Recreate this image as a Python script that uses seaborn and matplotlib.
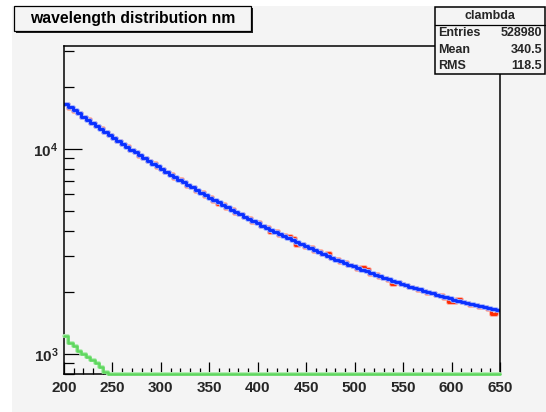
import numpy as np
import pandas as pd
import matplotlib
matplotlib.use("Agg")
import matplotlib.pyplot as plt
import matplotlib.patheffects as pe
from matplotlib.patches import Rectangle
from matplotlib.lines import Line2D
from matplotlib.ticker import FixedLocator, FuncFormatter, MultipleLocator, LogLocator, NullFormatter
import seaborn as sns

# ---- histogram definition -------------------------------------------------
bin_lo, bin_hi, n_bins = 200.0, 650.0, 100

# measured spectrum (counts per bin)
measured = [
    16640, 15900, 15380, 14950, 14310, 13950, 13390, 12880, 12590, 12060,
    11760, 11270, 10990, 10540, 10310, 9870, 9650, 9290, 9080, 8700,
    8530, 8190, 8010, 7690, 7550, 7240, 7110, 6900, 6620, 6520,
    6270, 6170, 5930, 5830, 5600, 5390, 5380, 5170, 5100, 4890,
    4830, 4640, 4600, 4410, 4390, 4190, 4150, 3950, 3970, 3820,
    3790, 3780, 3700, 3410, 3460, 3330, 3310, 3180, 3170, 3060,
    3105, 2930, 2900, 2810, 2800, 2710, 2690, 2600, 2650, 2600,
    2470, 2450, 2380, 2360, 2300, 2190, 2250, 2190, 2180, 2120,
    2110, 2050, 2040, 1990, 1990, 1930, 1930, 1880, 1790, 1790,
    1850, 1790, 1780, 1740, 1740, 1700, 1700, 1660, 1570, 1630,
]

# expected (smooth) spectrum
expected = [
    16600, 16020, 15450, 14910, 14400, 13900, 13430, 12970, 12540, 12120,
    11710, 11330, 10960, 10610, 10270, 9940, 9620, 9320, 9030, 8750,
    8480, 8230, 7980, 7740, 7510, 7290, 7080, 6870, 6680, 6490,
    6300, 6130, 5960, 5790, 5640, 5490, 5340, 5200, 5060, 4930,
    4800, 4680, 4560, 4450, 4340, 4230, 4130, 4030, 3940, 3850,
    3760, 3670, 3590, 3510, 3430, 3360, 3280, 3210, 3150, 3080,
    3015, 2950, 2890, 2840, 2780, 2730, 2675, 2625, 2576, 2530,
    2483, 2440, 2396, 2354, 2314, 2275, 2237, 2200, 2165, 2131,
    2098, 2066, 2034, 2004, 1975, 1947, 1919, 1893, 1867, 1842,
    1818, 1795, 1773, 1751, 1730, 1710, 1690, 1671, 1653, 1635,
]

# short-wavelength component (empty above ~250 nm)
short_comp = [1224, 1128, 1098, 1038, 997, 970, 935, 901, 867, 820, 790] + [0] * 89

x_ticks = [200, 250, 300, 350, 400, 450, 500, 550, 600, 650]
y_ticks = [1e3, 1e4]
y_range = (799.0, 31800.0)

title_text = "wavelength distribution nm"
stats_name = "clambda"
stats_rows = [("Entries", "528980"), ("Mean", "340.5"), ("RMS", "118.5")]

# ---- style ----------------------------------------------------------------
sns.set_theme(style="white")
plt.rcParams["font.family"] = ["Liberation Sans", "DejaVu Sans"]
plt.rcParams["font.weight"] = "bold"
plt.rcParams["mathtext.fontset"] = "custom"
plt.rcParams["mathtext.rm"] = "Liberation Sans:bold"
plt.rcParams["mathtext.bf"] = "Liberation Sans:bold"
plt.rcParams["mathtext.it"] = "Liberation Sans:bold"

BG = "#f4f4f4"
W, H = 546, 412

fig = plt.figure(figsize=(W / 100, H / 100), dpi=100, facecolor="white")


def fx(px):
    return px / W


def fy(py):
    return 1 - py / H


# canvas
fig.patches.append(Rectangle((fx(12), 0), 1 - fx(12), fy(6), transform=fig.transFigure,
                             facecolor=BG, edgecolor="none", zorder=-10))

ax = fig.add_axes([fx(64), fy(374), fx(500) - fx(64), fy(46) - fy(374)])
ax.set_facecolor(BG)

edges = np.linspace(bin_lo, bin_hi, n_bins + 1)
centers = 0.5 * (edges[:-1] + edges[1:])
bin_list = [float(e) for e in edges]

# empty bins sit on the lower edge of the log axis
short_shown = np.clip(np.array(short_comp, dtype=float), y_range[0], None)
df = pd.DataFrame({
    "wavelength": centers,
    "measured": measured,
    "expected": expected,
    "short": short_shown,
})

sns.histplot(data=df, x="wavelength", weights="measured", bins=bin_list, element="step", fill=False,
             color="#ff2a00", linewidth=2.1, ax=ax,
             path_effects=[pe.Stroke(linewidth=3.4, foreground="#ffa898"), pe.Normal()])
sns.histplot(data=df, x="wavelength", weights="expected", bins=bin_list, element="step", fill=False,
             color="#0a30ff", linewidth=2.1, ax=ax,
             path_effects=[pe.Stroke(linewidth=3.4, foreground="#9fb0ff"), pe.Normal()])
sns.histplot(data=df, x="wavelength", weights="short", bins=bin_list, element="step", fill=False,
             color="#5fd75f", linewidth=1.8, ax=ax, clip_on=False, zorder=4,
             path_effects=[pe.Stroke(linewidth=2.8, foreground="#b2ecb2"), pe.Normal()])

ax.set_yscale("log")
ax.set_xlim(bin_lo, bin_hi)
ax.set_ylim(*y_range)
ax.set_xlabel("")
ax.set_ylabel("")

ax.xaxis.set_major_locator(FixedLocator(x_ticks))
ax.xaxis.set_minor_locator(MultipleLocator(10))
ax.yaxis.set_major_locator(FixedLocator(y_ticks))
ax.yaxis.set_minor_locator(LogLocator(base=10, subs=np.arange(2, 10)))
ax.yaxis.set_minor_formatter(NullFormatter())
ax.yaxis.set_major_formatter(FuncFormatter(lambda v, p: r"$\mathbf{10^{%d}}$" % round(np.log10(v))))

ax.tick_params(axis="x", which="major", direction="in", length=9, width=0.9, color="black",
               labelsize=11, pad=5, top=False, bottom=True)
ax.tick_params(axis="x", which="minor", direction="in", length=4.5, width=0.9, color="black",
               top=False, bottom=True)
ax.tick_params(axis="y", which="major", direction="in", length=13, width=0.9, color="black",
               labelsize=11, pad=4, left=True, right=False)
ax.tick_params(axis="y", which="minor", direction="in", length=7, width=0.9, color="black",
               left=True, right=False)
for lab in ax.get_xticklabels():
    lab.set_fontweight("bold")

for sp in ax.spines.values():
    sp.set_visible(True)
    sp.set_color("black")
    sp.set_linewidth(1.1)

# ---- title box ------------------------------------------------------------
tx0, ty0, tx1, ty1 = 14, 6, 251, 31
fig.patches.append(Rectangle((fx(tx0 + 2), fy(ty1 + 2)), fx(tx1 - tx0), fy(ty0) - fy(ty1),
                             transform=fig.transFigure, facecolor="#222222", edgecolor="none", zorder=5))
fig.patches.append(Rectangle((fx(tx0), fy(ty1)), fx(tx1 - tx0), fy(ty0) - fy(ty1),
                             transform=fig.transFigure, facecolor=BG, edgecolor="black",
                             linewidth=0.9, zorder=6))
fig.text(fx((tx0 + tx1) / 2), fy((ty0 + ty1) / 2 + 0.5), title_text, ha="center", va="center",
         fontsize=11.3, fontweight="bold", color="black", zorder=7)

# ---- statistics box -------------------------------------------------------
sx0, sy0, sx1, sy1 = 435, 7, 545, 74
fig.patches.append(Rectangle((fx(sx0), fy(sy1)), fx(sx1 - sx0), fy(sy0) - fy(sy1),
                             transform=fig.transFigure, facecolor=BG, edgecolor="black",
                             linewidth=1.1, zorder=6))
fig.lines.append(Line2D([fx(sx0), fx(sx1)], [fy(25), fy(25)], transform=fig.transFigure,
                        color="black", linewidth=0.9, zorder=7))
fig.text(fx((sx0 + sx1) / 2), fy(16), stats_name, ha="center", va="center",
         fontsize=9, fontweight="bold", zorder=8)
row_y = [33.5, 50, 66]
for (name, val), yy in zip(stats_rows, row_y):
    fig.text(fx(sx0 + 3), fy(yy), name, ha="left", va="center", fontsize=9,
             fontweight="bold", zorder=8)
    fig.text(fx(sx1 - 3), fy(yy), val, ha="right", va="center", fontsize=9,
             fontweight="bold", zorder=8)

fig.savefig("out.png", dpi=100, facecolor=fig.get_facecolor())
